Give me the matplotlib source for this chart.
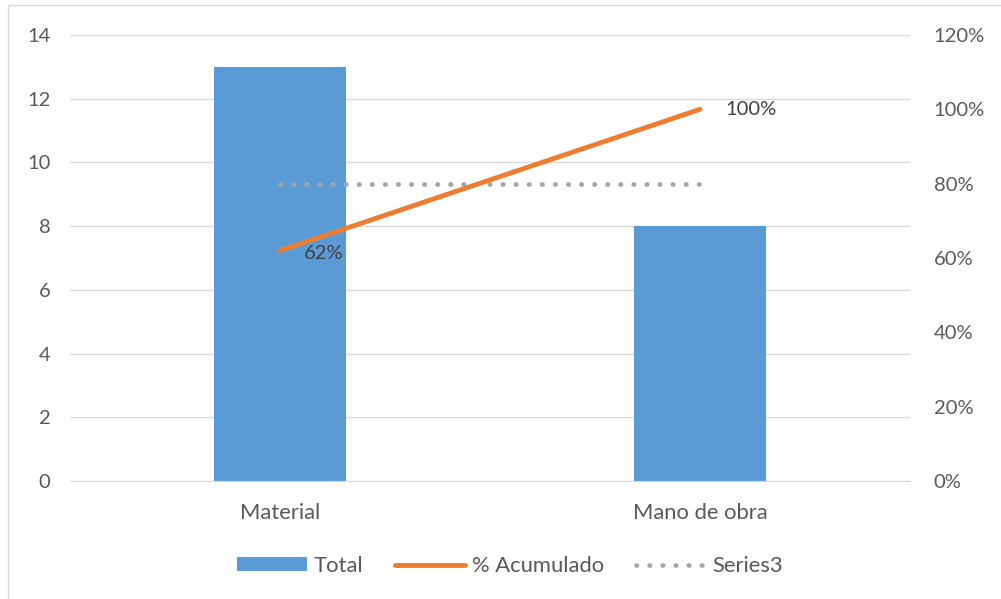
import matplotlib
matplotlib.use("Agg")
import matplotlib.pyplot as plt
from matplotlib.lines import Line2D
from matplotlib.patches import Patch, Rectangle

categories = ["Material", "Mano de obra"]
total = [13, 8]
acumulado = [0.62, 1.00]
series3 = [0.80, 0.80]
acum_labels = ["62%", "100%"]

left_ticks = [0, 2, 4, 6, 8, 10, 12, 14]
right_ticks = [0, 0.2, 0.4, 0.6, 0.8, 1.0, 1.2]

blue = "#5B9BD5"
orange = "#ED7D31"
gray = "#A5A5A5"
txt = "#595959"
font = "Lato"
fs = 14.5
fs_txt = 15.8

W, H = 1001, 599
fig = plt.figure(figsize=(W / 100, H / 100), dpi=100)
fig.patches.append(Rectangle((8 / W, -0.01), 1.0, 1 - 5 / H + 0.01, transform=fig.transFigure,
                             fill=False, edgecolor="#D9D9D9", linewidth=1))

ax = fig.add_axes([70 / W, 1 - 481 / H, 840 / W, 446 / H])
ax2 = ax.twinx()

x = list(range(len(categories)))
ax.bar(x, total, width=0.314, color=blue, zorder=2)
ax.set_xlim(-0.5, len(categories) - 0.5)
ax.set_ylim(0, 14)
ax.set_yticks(left_ticks)
ax.set_yticklabels([str(v) for v in left_ticks])
ax.set_xticks(x)
ax.set_xticklabels(categories)
ax.yaxis.grid(True, color="#D9D9D9", linewidth=1, zorder=0)
ax.set_axisbelow(True)
for s in ax.spines.values():
    s.set_visible(False)
for s in ax2.spines.values():
    s.set_visible(False)
ax.spines["bottom"].set_visible(True)
ax.spines["bottom"].set_color("#D9D9D9")
ax.tick_params(axis="y", length=0, labelsize=fs, labelcolor=txt, pad=14)
ax.tick_params(axis="x", length=0, labelsize=fs_txt, labelcolor=txt, pad=16)

dot = (0, (0.1, 2.67))
ax2.plot(x, series3, linestyle=dot, dash_capstyle="round", color=gray, linewidth=3.4, zorder=3)
ax2.plot(x, acumulado, color=orange, linewidth=3.5, solid_capstyle="round", zorder=4)
ax2.set_ylim(0, 1.2)
ax2.set_yticks(right_ticks)
ax2.set_yticklabels([f"{int(round(v * 100))}%" for v in right_ticks])
ax2.tick_params(axis="y", length=0, labelsize=fs, labelcolor=txt, pad=17)

ax2.annotate(acum_labels[0], (x[0], acumulado[0]), xytext=(17, -2), textcoords="offset points",
             ha="left", va="center", fontsize=fs, color="#404040", family=font)
ax2.annotate(acum_labels[1], (x[1], acumulado[1]), xytext=(18, 0), textcoords="offset points",
             ha="left", va="center", fontsize=fs, color="#404040", family=font)

for lab in ax.get_xticklabels() + ax.get_yticklabels() + ax2.get_yticklabels():
    lab.set_family(font)

handles = [
    Patch(facecolor=blue, edgecolor="none"),
    Line2D([0], [0], color=orange, linewidth=3.5, solid_capstyle="round"),
    Line2D([0], [0], color=gray, linewidth=3.4, linestyle=dot, dash_capstyle="round"),
]
leg = fig.legend(handles, ["Total", "% Acumulado", "Series3"], loc="center",
                 bbox_to_anchor=(510 / W, 1 - 566 / H), ncol=3, frameon=False,
                 prop={"family": font, "size": fs_txt}, handlelength=3.2, handleheight=0.6,
                 columnspacing=1.45, handletextpad=0.3)
for t in leg.get_texts():
    t.set_color(txt)

fig.savefig("out.png", dpi=100)
